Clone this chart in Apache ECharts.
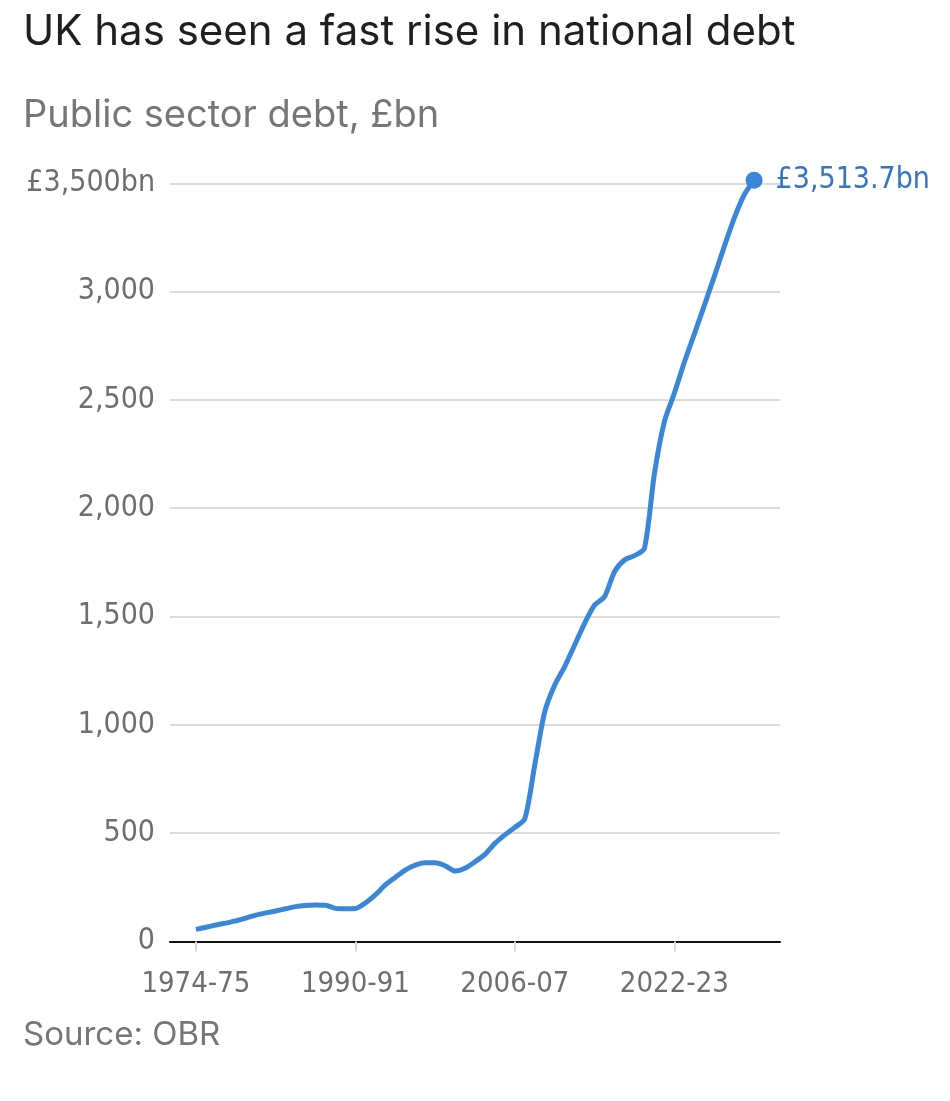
<!DOCTYPE html>
<html>
<head>
    <meta charset="utf-8">
    <script src="https://cdn.jsdelivr.net/npm/echarts@6.0.0/dist/echarts.min.js"></script>
    <style>
        html, body { margin: 0; padding: 0; background: #fff; }
    </style>
</head>
<body>
    <div id="main" style="width: 950px;height:1101px;"></div>
    <script type="text/javascript">
        // start year of each fiscal year (1974 = 1974-75)
        var years = [
            1974, 1975, 1976, 1977, 1978, 1979, 1980, 1981, 1982, 1983,
            1984, 1985, 1986, 1987, 1988, 1989, 1990, 1991, 1992, 1993,
            1994, 1995, 1996, 1997, 1998, 1999, 2000, 2001, 2002, 2003,
            2004, 2005, 2006, 2007, 2008, 2009, 2010, 2011, 2012, 2013,
            2014, 2015, 2016, 2017, 2018, 2019, 2020, 2021, 2022, 2023,
            2024, 2025, 2026, 2027, 2028, 2029, 2030
        ];
        // public sector debt, £bn
        var debt = [
            56, 66, 76, 85, 95, 108, 122, 132, 141, 151,
            161, 166, 168, 167, 153, 151, 152, 178, 215, 261,
            296, 330, 353, 364, 364, 350, 325, 338, 368, 402,
            453, 492, 527, 567, 816, 1061, 1184, 1269, 1369, 1469,
            1553, 1592, 1707, 1761, 1781, 1815, 2160, 2400, 2531, 2674,
            2804, 2935, 3069, 3207, 3338, 3446, 3513.7
        ];
        var xLabelYears = [1974, 1990, 2006, 2022];
        var yTicks = [0, 500, 1000, 1500, 2000, 2500, 3000, 3500];

        var blue = '#3a86d8';
        var condensed = '"DejaVu Sans Condensed", "Liberation Sans Narrow", Roboto, sans-serif';

        function fy(y) {
            return y + '-' + String(y + 1).slice(2);
        }
        function commas(v) {
            return v.toLocaleString('en-GB');
        }

        var points = years.map(function (y, i) { return [y, debt[i]]; });
        var last = points[points.length - 1];

        var myChart = echarts.init(document.getElementById('main'));

        var option = {
            animation: false,
            title: [
                {
                    text: 'UK has seen a fast rise in national debt',
                    left: 18,
                    top: 6,
                    textStyle: { fontFamily: 'Inter', fontSize: 42, fontWeight: 'normal', color: '#1f1f1f' }
                },
                {
                    text: 'Public sector debt, £bn',
                    left: 18,
                    top: 92,
                    textStyle: { fontFamily: 'Inter', fontSize: 38, fontWeight: 'normal', color: '#767676' }
                },
                {
                    text: 'Source: OBR',
                    left: 18,
                    top: 1014,
                    textStyle: { fontFamily: 'Inter', fontSize: 33, fontWeight: 'normal', color: '#767676' }
                }
            ],
            grid: {
                left: 170,
                right: 170,
                top: 183.3,
                bottom: 159.5,
                containLabel: false
            },
            xAxis: {
                type: 'value',
                min: 1971.4,
                max: 2032.6,
                axisLine: { show: true, lineStyle: { color: '#111', width: 2 } },
                axisTick: {
                    show: true,
                    customValues: xLabelYears,
                    length: 10,
                    lineStyle: { color: '#d8d8d8', width: 2 }
                },
                axisLabel: {
                    customValues: xLabelYears,
                    formatter: function (v) { return fy(v); },
                    fontFamily: condensed,
                    fontSize: 29,
                    color: '#6e6e6e',
                    margin: 28
                },
                splitLine: { show: false }
            },
            yAxis: {
                type: 'value',
                min: 0,
                max: 3500,
                interval: 500,
                axisLine: { show: false },
                axisTick: { show: false },
                axisLabel: {
                    formatter: function (v) {
                        return v === yTicks[yTicks.length - 1] ? '£' + commas(v) + 'bn' : commas(v);
                    },
                    fontFamily: condensed,
                    fontSize: 30,
                    color: '#6e6e6e',
                    margin: 15
                },
                splitLine: { lineStyle: { color: '#dcdcdc', width: 2 } }
            },
            series: [
                {
                    type: 'line',
                    data: points,
                    showSymbol: false,
                    smooth: 0.25,
                    clip: false,
                    lineStyle: { color: blue, width: 5 },
                    z: 3
                },
                {
                    type: 'scatter',
                    data: [last],
                    clip: false,
                    symbol: 'circle',
                    symbolSize: 17,
                    itemStyle: { color: blue, opacity: 1 },
                    label: {
                        show: true,
                        position: 'right',
                        distance: 13,
                        formatter: function (p) { return '£' + commas(p.value[1]) + 'bn'; },
                        fontFamily: condensed,
                        fontSize: 30,
                        color: '#3475c4',
                        opacity: 1
                    },
                    z: 4
                }
            ]
        };

        myChart.setOption(option);
    </script>
</body>
</html>
